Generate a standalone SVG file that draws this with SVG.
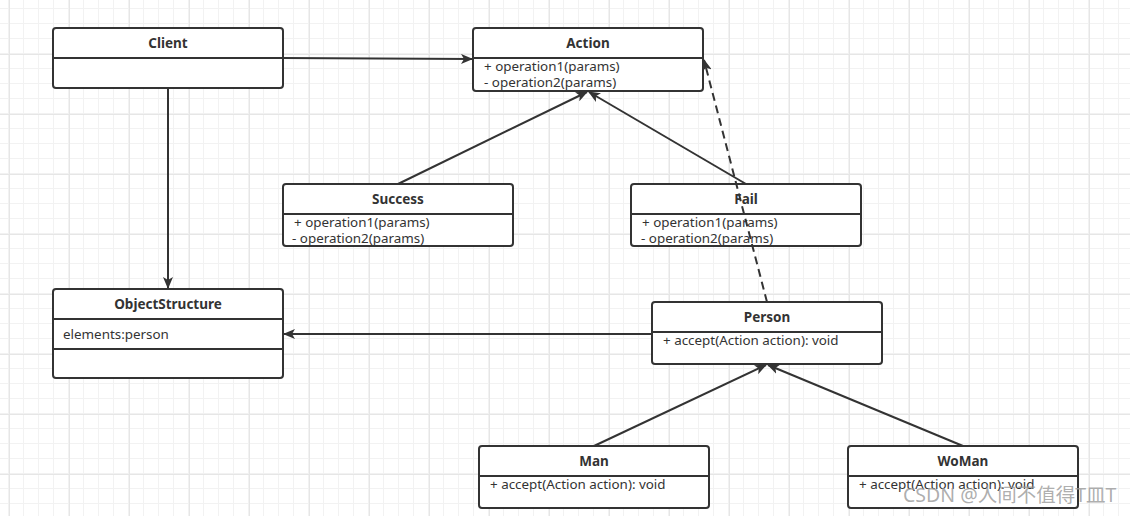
<svg xmlns="http://www.w3.org/2000/svg" width="1130" height="516" viewBox="0 0 1130 516">
<style>
.box{fill:#fff;stroke:#333;stroke-width:2}
.div{stroke:#333;stroke-width:2}
.title{font-family:"Noto Sans","DejaVu Sans",sans-serif;font-size:13.5px;font-weight:bold;fill:#333;text-anchor:middle}
.mem{font-family:"Noto Sans","DejaVu Sans",sans-serif;font-size:13.4px;fill:#333}
.edge{fill:none;stroke:#333;stroke-width:2}
.dash{stroke-dasharray:8 5}
.wm{font-family:"Noto Sans","Noto Sans CJK SC",sans-serif;font-size:19.5px;fill:#999;fill-opacity:0.8}
</style>
<defs>
<pattern id="minor" x="9" y="9" width="15" height="15" patternUnits="userSpaceOnUse">
<path d="M14.5,0 V15 M0,14.5 H15" stroke="#f2f2f2" stroke-width="1" fill="none"/>
</pattern>
<pattern id="major" x="9" y="54" width="60" height="60" patternUnits="userSpaceOnUse">
<path d="M0.5,0 V60 M0,0.5 H60" stroke="#e6e6e6" stroke-width="1" fill="none"/>
</pattern>
<marker id="arr" viewBox="0 0 12 10" refX="11" refY="5" markerWidth="12" markerHeight="10" markerUnits="userSpaceOnUse" orient="auto">
<path d="M0,0 L12,5 L0,10 L3,5 z" fill="#333"/>
</marker>
</defs>
<rect width="1130" height="516" fill="#fff"/>
<rect width="1130" height="516" fill="url(#minor)"/>
<rect width="1130" height="516" fill="url(#major)"/>

<g id="client">
<rect class="box" x="53" y="28" width="230" height="60" rx="3"/>
<line class="div" x1="53" y1="58" x2="283" y2="58"/>
<text class="title" x="168" y="48">Client</text>
</g>

<g id="action">
<rect class="box" x="473" y="28" width="230" height="63" rx="3"/>
<line class="div" x1="473" y1="58" x2="703" y2="58"/>
<text class="title" x="588" y="48">Action</text>
<text class="mem" x="484" y="71">+ operation1(params)</text>
<text class="mem" x="484" y="87">- operation2(params)</text>
</g>

<g id="success">
<rect class="box" x="283" y="184" width="230" height="62" rx="3"/>
<line class="div" x1="283" y1="214" x2="513" y2="214"/>
<text class="title" x="398" y="204">Success</text>
<text class="mem" x="294" y="227">+ operation1(params)</text>
<text class="mem" x="292" y="243">- operation2(params)</text>
</g>

<g id="fail">
<rect class="box" x="631" y="184" width="230" height="62" rx="3"/>
<line class="div" x1="631" y1="214" x2="861" y2="214"/>
<text class="title" x="746" y="204">Fail</text>
<text class="mem" x="642" y="227">+ operation1(params)</text>
<text class="mem" x="641" y="243">- operation2(params)</text>
</g>

<g id="objectstructure">
<rect class="box" x="53" y="289" width="230" height="89" rx="3"/>
<line class="div" x1="53" y1="319" x2="283" y2="319"/>
<line class="div" x1="53" y1="349" x2="283" y2="349"/>
<text class="title" x="168" y="309">ObjectStructure</text>
<text class="mem" x="63" y="339">elements:person</text>
</g>

<g id="person">
<rect class="box" x="652" y="302" width="230" height="62" rx="3"/>
<line class="div" x1="652" y1="332" x2="882" y2="332"/>
<text class="title" x="767" y="322">Person</text>
<text class="mem" x="663" y="345">+ accept(Action action): void</text>
</g>

<g id="man">
<rect class="box" x="479" y="446" width="230" height="62" rx="3"/>
<line class="div" x1="479" y1="476" x2="709" y2="476"/>
<text class="title" x="594" y="466">Man</text>
<text class="mem" x="490" y="489">+ accept(Action action): void</text>
</g>

<g id="woman">
<rect class="box" x="848" y="446" width="230" height="62" rx="3"/>
<line class="div" x1="848" y1="476" x2="1078" y2="476"/>
<text class="title" x="963" y="466">WoMan</text>
<text class="mem" x="859" y="489">+ accept(Action action): void</text>
</g>

<g id="connectors">
<line class="edge" x1="283" y1="58" x2="472" y2="59" marker-end="url(#arr)"/>
<line class="edge" x1="168" y1="88" x2="168" y2="288" marker-end="url(#arr)"/>
<line class="edge" x1="398" y1="184" x2="587" y2="92" marker-end="url(#arr)"/>
<line class="edge" x1="746" y1="184" x2="589" y2="92" marker-end="url(#arr)"/>
<line class="edge dash" x1="767" y1="302" x2="704" y2="60" marker-end="url(#arr)"/>
<line class="edge" x1="652" y1="334" x2="284" y2="334" marker-end="url(#arr)"/>
<line class="edge" x1="594" y1="446" x2="766" y2="365" marker-end="url(#arr)"/>
<line class="edge" x1="963" y1="446" x2="768" y2="365" marker-end="url(#arr)"/>
</g>

<text class="wm" x="903" y="502">CSDN @人间不值得T皿T</text>
</svg>
